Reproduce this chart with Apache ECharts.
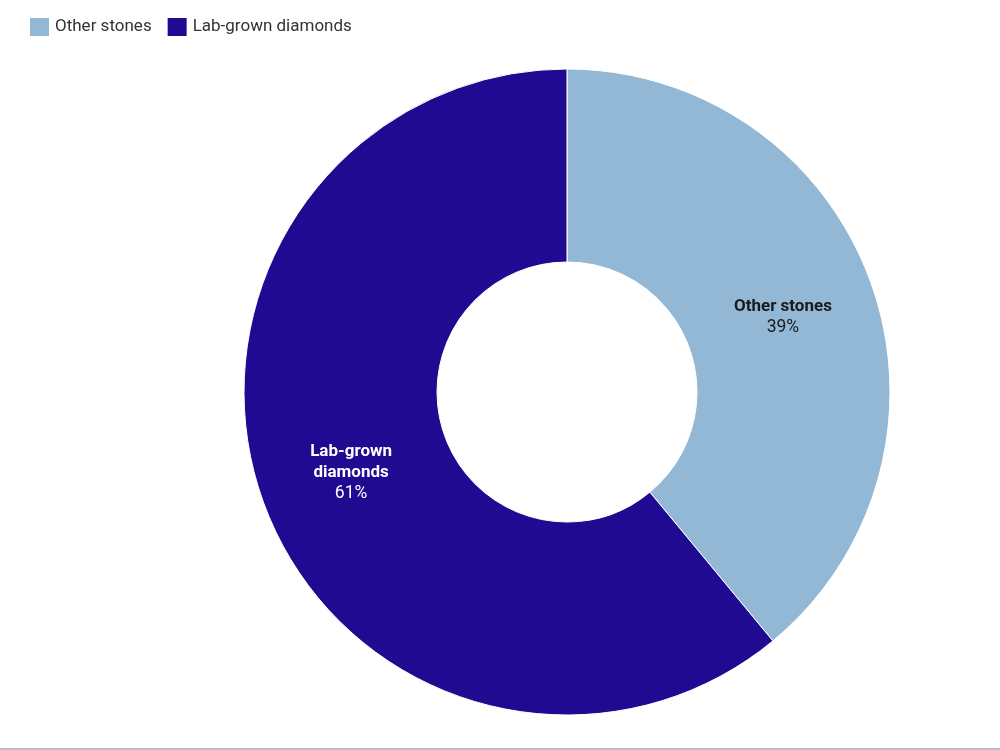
<!DOCTYPE html>
<html><head><meta charset="utf-8">
<script src="https://cdn.jsdelivr.net/npm/echarts@6/dist/echarts.min.js"></script>
<style>html,body{margin:0;padding:0;background:#fff}#c{width:1000px;height:750px}</style>
</head><body><div id="c"></div>
<script>
const categories = ["Other stones", "Lab-grown diamonds"];
const values = [39, 61];
const colors = ["#93b8d6", "#1f0a91"];
const labelColors = ["#1a1a1a", "#ffffff"];

const chart = echarts.init(document.getElementById('c'));
chart.setOption({
  animation: false,
  textStyle: { fontFamily: 'Roboto' },
  legend: {
    left: 28, top: 16, padding: 0,
    itemWidth: 21, itemHeight: 20, itemGap: 14,
    icon: 'rect',
    textStyle: { fontSize: 17, color: '#333', fontFamily: 'Roboto' },
    data: categories
  },
  graphic: [{ type: 'rect', shape: { x: 0, y: 748, width: 1000, height: 2 }, style: { fill: '#bdbdbd' } }],
  series: [{
    type: 'pie',
    center: [567, 392],
    radius: [130, 323],
    startAngle: 90,
    clockwise: true,
    avoidLabelOverlap: false,
    itemStyle: { borderColor: '#fff', borderWidth: 1 },
    label: {
      show: true, position: 'inside', offset: [0, 3],
      formatter: p => '{b|' + p.name.replace('Lab-grown diamonds', 'Lab-grown\ndiamonds') + '}\n{p|' + p.value + '%}',
      rich: {
        b: { fontSize: 17, fontWeight: 'bold', lineHeight: 21, fontFamily: 'Roboto' },
        p: { fontSize: 17.5, lineHeight: 21, fontFamily: 'Roboto' }
      }
    },
    labelLine: { show: false },
    data: categories.map((n, i) => ({
      name: n, value: values[i],
      itemStyle: { color: colors[i] },
      label: { color: labelColors[i], rich: { b: { color: labelColors[i] }, p: { color: labelColors[i] } } }
    }))
  }]
});
</script></body></html>
